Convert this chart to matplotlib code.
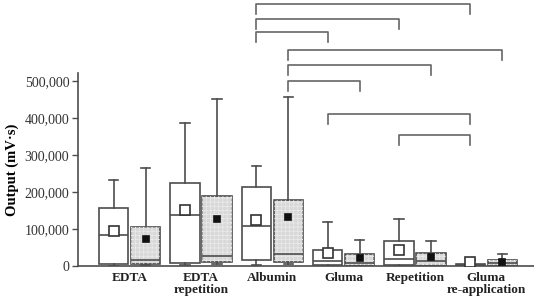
import numpy as np
import matplotlib
matplotlib.use('Agg')
import matplotlib.pyplot as plt
from matplotlib.patches import Rectangle
from matplotlib.ticker import FuncFormatter

plt.rcParams['font.family'] = ['Liberation Serif', 'DejaVu Serif']
plt.rcParams['hatch.linewidth'] = 0.5

# Groups (x tick labels)
groups = ['EDTA', 'EDTA\nrepetition', 'Albumin', 'Gluma', 'Repetition', 'Gluma\nre-application']

# Box statistics (mV*s), first box of each pair (white) then second (grey)
white_lo = [1000, 2000, 2000, 500, 500, 300]
white_q1 = [4600, 9000, 15000, 2000, 1500, 500]
white_med = [84000, 137000, 109000, 12700, 18000, 1900]
white_q3 = [156000, 225000, 215000, 42500, 68500, 4600]
white_hi = [233000, 388000, 270000, 119000, 128000, 15400]
white_mean = [95700, 152000, 125000, 34000, 42500, 11600]

grey_lo = [2000, 5000, 5000, 500, 500, 500]
grey_q1 = [5400, 10000, 11000, 1500, 2000, 2000]
grey_med = [15400, 28000, 32500, 7000, 13500, 7000]
grey_q3 = [106500, 190000, 179000, 33000, 36000, 16000]
grey_hi = [266000, 452000, 458000, 71000, 68500, 32500]
grey_mean = [72000, 128000, 133000, 22500, 23500, 11000]

# Significance brackets: (group, box) -> (group, box), level
br_left = [(2, 0), (2, 0), (2, 0), (2, 1), (2, 1), (2, 1), (3, 0), (4, 0)]
br_right = [(5, 0), (4, 0), (3, 0), (5, 1), (4, 1), (3, 1), (5, 0), (5, 0)]
br_level = [708000, 669000, 633000, 585000, 543000, 501000, 412000, 355000]
br_drop = 27000

off = 0.225
edge = '#4d4d4d'

fig = plt.figure(figsize=(5.34, 2.96), dpi=100)
ax = fig.add_axes([0.1455, 0.1014, 0.8545, 0.6516])

x = np.arange(len(groups))
stats = []
pos = []
for i in range(len(groups)):
    stats.append(dict(whislo=white_lo[i], q1=white_q1[i], med=white_med[i],
                      q3=white_q3[i], whishi=white_hi[i], mean=white_mean[i]))
    pos.append(x[i] - off)
    stats.append(dict(whislo=grey_lo[i], q1=grey_q1[i], med=grey_med[i],
                      q3=grey_q3[i], whishi=grey_hi[i], mean=grey_mean[i]))
    pos.append(x[i] + off)

bp = ax.bxp(stats, positions=pos, widths=0.41, patch_artist=True,
            showmeans=True, showfliers=False,
            boxprops=dict(edgecolor=edge, linewidth=1.2),
            whiskerprops=dict(color=edge, linewidth=1.2),
            capprops=dict(color=edge, linewidth=1.2),
            medianprops=dict(color=edge, linewidth=1.2),
            meanprops=dict(marker='s', markersize=6.5, markeredgecolor='#333333',
                           markerfacecolor='white', markeredgewidth=1.2),
            capwidths=0.13)

for k, box in enumerate(bp['boxes']):
    if k % 2 == 0:
        box.set_facecolor('white')
    else:
        box.set_facecolor('#d8d8d8')
        st = stats[k]
        ax.add_patch(Rectangle((pos[k] - 0.205, st['q1']), 0.41, st['q3'] - st['q1'],
                               fill=False, edgecolor='#ebebeb', hatch='++++',
                               linewidth=0, zorder=2.1))
        m = bp['means'][k]
        m.set_markerfacecolor('#111111')
        m.set_markeredgecolor('#111111')
        m.set_markersize(4)
    bp['means'][k].set_zorder(4)
    bp['medians'][k].set_zorder(3)

# brackets
for (g1, b1), (g2, b2), lv in zip(br_left, br_right, br_level):
    x1 = x[g1] + (off if b1 else -off)
    x2 = x[g2] + (off if b2 else -off)
    ax.plot([x1, x1, x2, x2], [lv - br_drop, lv, lv, lv - br_drop],
            color='#666666', linewidth=1.2, clip_on=False)

ax.set_xlim(-0.73, 5.67)
ax.set_ylim(0, 522000)
ax.set_xticks(x)
ax.set_xticklabels(groups, fontsize=9.5, fontweight='bold', color='#222222',
                   linespacing=1.05)
ax.tick_params(axis='x', length=0, pad=4)
ax.set_yticks([0, 100000, 200000, 300000, 400000, 500000])
ax.yaxis.set_major_formatter(FuncFormatter(lambda v, p: '0' if v == 0 else f'{int(v):,}'))
ax.tick_params(axis='y', length=4, width=1, color=edge, labelsize=10,
               labelcolor='#333333', pad=2)
ax.set_ylabel('Output (mV·s)', fontsize=10.5, fontweight='bold', labelpad=4)

for s in ['top', 'right']:
    ax.spines[s].set_visible(False)
for s in ['left', 'bottom']:
    ax.spines[s].set_color(edge)
    ax.spines[s].set_linewidth(1.2)

fig.savefig('out.png', dpi=100)
